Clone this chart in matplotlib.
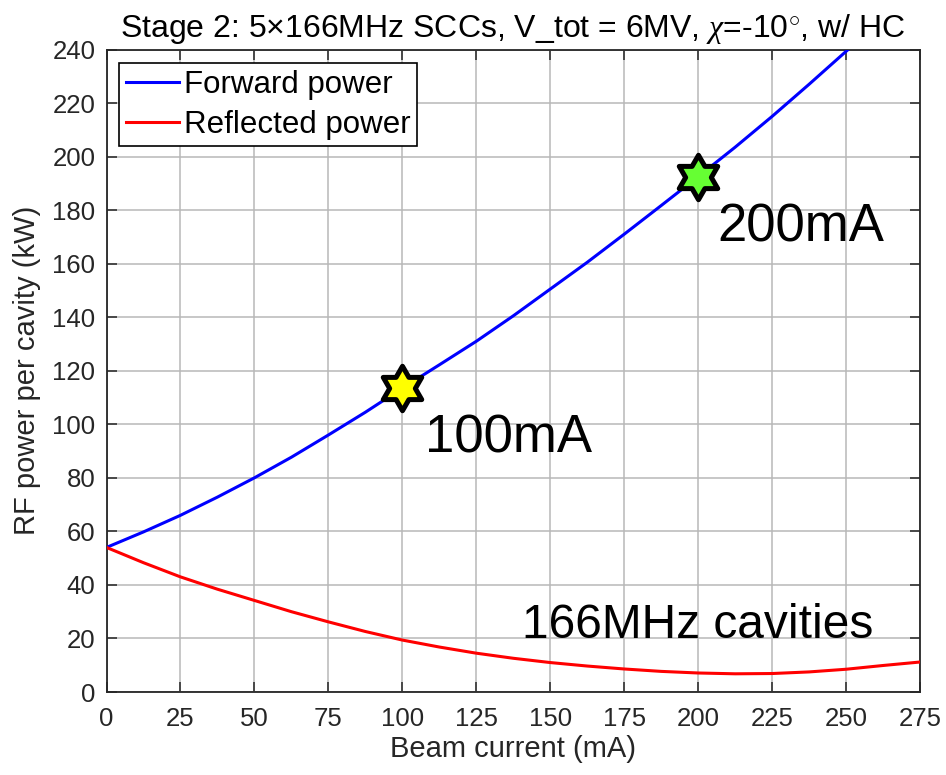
import numpy as np
import matplotlib
matplotlib.use("Agg")
import matplotlib.pyplot as plt
from matplotlib.path import Path

plt.rcParams['font.family'] = ['Liberation Sans', 'DejaVu Sans']
plt.rcParams['mathtext.fontset'] = 'custom'
plt.rcParams['mathtext.rm'] = 'Liberation Sans'
plt.rcParams['mathtext.it'] = 'Liberation Serif:italic'

# Beam current (mA)
beam_current = [0, 12.5, 25, 37.5, 50, 62.5, 75, 87.5, 100, 112.5, 125, 137.5,
                150, 162.5, 175, 187.5, 200, 212.5, 225, 237.5, 250, 262.5, 275]
# RF power per cavity (kW)
forward_power = [54.0, 59.8, 66.0, 72.8, 80.0, 87.7, 96.0, 104.5, 113.5, 122.2,
                 131.0, 140.5, 150.5, 160.5, 171.0, 181.7, 192.5, 203.5, 215.0,
                 227.0, 239.3, 251.5, 264.0]
reflected_power = [54.0, 48.3, 43.0, 38.4, 34.2, 30.0, 26.2, 22.6, 19.4, 16.8,
                   14.5, 12.6, 11.0, 9.7, 8.6, 7.7, 7.1, 6.8, 6.9, 7.5, 8.5,
                   9.9, 11.2]

# Operating points
op_current = [100, 200]
op_power = [113.5, 192.5]
op_labels = ["100mA", "200mA"]
op_colors = ["#ffff00", "#66ff33"]

x_ticks = list(range(0, 276, 25))
y_ticks = list(range(0, 241, 20))

W, H = 946, 775
fig = plt.figure(figsize=(W / 100, H / 100), dpi=100)
ax = fig.add_axes([106.5 / W, 1 - 692 / H, (920 - 106.5) / W, (692 - 49.5) / H])

ax.plot(beam_current, forward_power, color=(0, 0, 1), lw=2.2, label="Forward power", zorder=3)
ax.plot(beam_current, reflected_power, color=(1, 0, 0), lw=2.2, label="Reflected power", zorder=3)

hexagram = Path.unit_regular_star(6, 1 / np.sqrt(3))
for xc, yc, col in zip(op_current, op_power, op_colors):
    ax.plot([xc], [yc], marker=hexagram, ms=32, mfc=col, mec='black', mew=3.6,
            ls='none', zorder=5)

ax.text(107.7, 89.3, op_labels[0], fontsize=38, color='black', zorder=6)
ax.text(206.4, 168.1, op_labels[1], fontsize=38, color='black', zorder=6)
ax.text(140.4, 20.1, "166MHz cavities", fontsize=34.5, color='black', zorder=6)

ax.set_xlim(0, 275)
ax.set_ylim(0, 240)
ax.set_xticks(x_ticks)
ax.set_yticks(y_ticks)
ax.grid(True, color='#b8b8b8', lw=1.1)
ax.set_axisbelow(True)
ax.tick_params(direction='in', length=7, width=1.1, top=True, right=True,
               labelsize=18.5, colors='#262626')
ax.tick_params(axis='x', pad=10.5)
ax.tick_params(axis='y', pad=8)
for s in ax.spines.values():
    s.set_color('#262626')
    s.set_linewidth(1.3)

ax.set_xlabel("Beam current (mA)", fontsize=21, color='#262626', labelpad=3.5)
ax.set_ylabel("RF power per cavity (kW)", fontsize=21, color='#262626', labelpad=8)
ax.text(0.5, (692 - 37) / (692 - 49.5),
        r"Stage 2: 5$\times$166MHz SCCs, V_tot = 6MV, $\mathit{\chi}$=-10$^{\circ}$, w/ HC",
        fontsize=23, color='black', ha='center', va='baseline', transform=ax.transAxes)

leg = ax.legend(loc='upper left', bbox_to_anchor=(0.0157, 0.9785), borderaxespad=0,
                fontsize=22.5, handlelength=1.68, handletextpad=0.17, borderpad=0.22,
                labelspacing=0.3, fancybox=False, framealpha=1)
leg.get_frame().set_edgecolor('black')
leg.get_frame().set_linewidth(1.2)

fig.savefig("out.png", dpi=100)
